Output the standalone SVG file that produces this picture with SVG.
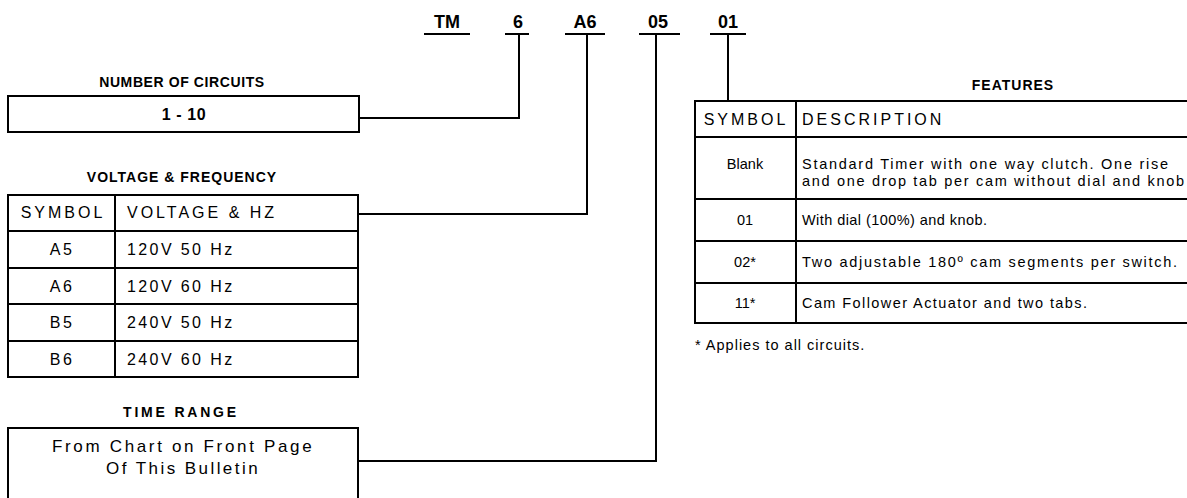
<svg xmlns="http://www.w3.org/2000/svg" width="1187" height="498" viewBox="0 0 1187 498">
<style>
.bg{fill:#fff}
.box{fill:none;stroke:#000;stroke-width:2}
.ln{fill:none;stroke:#000;stroke-width:2}
.cn{fill:none;stroke:#000;stroke-width:2}
.code{font-family:"Liberation Sans",Arial,sans-serif;font-weight:bold;font-size:18px;text-anchor:middle}
.ttl{font-family:"Liberation Sans",Arial,sans-serif;font-weight:bold;font-size:14px;text-anchor:middle;letter-spacing:0.6px}
.vt{font-family:"Liberation Sans",Arial,sans-serif;font-size:16px;letter-spacing:2.4px}
.vh{font-family:"Liberation Sans",Arial,sans-serif;font-size:16px;letter-spacing:3px}
.mid{text-anchor:middle}
.ft{font-family:"Liberation Sans",Arial,sans-serif;font-size:14.5px}
</style>
<rect class="bg" x="0" y="0" width="1187" height="498"/>

<g id="code">
<text class="code" x="447" y="28">TM</text>
<text class="code" x="518" y="28">6</text>
<text class="code" x="585" y="28">A6</text>
<text class="code" x="658" y="28">05</text>
<text class="code" x="728" y="28">01</text>
<path class="ln" d="M424,34H470M505,34H529M565,34H605M639,34H680M710,34H746"/>
</g>

<g id="connectors">
<path class="cn" d="M359,118H519V34"/>
<path class="cn" d="M358,214H587V34"/>
<path class="cn" d="M358,461H656V34"/>
<path class="cn" d="M728,34V101"/>
<path class="cn" d="M721,101H736" stroke-width="3"/>
</g>

<g id="circuits">
<text class="ttl" x="182" y="87">NUMBER OF CIRCUITS</text>
<rect class="box" x="8" y="96" width="351" height="36"/>
<text class="ttl" x="184" y="120" style="font-size:16px">1 - 10</text>
</g>

<g id="voltage">
<text class="ttl" x="182" y="182" style="letter-spacing:1px">VOLTAGE &amp; FREQUENCY</text>
<rect class="box" x="8" y="195" width="350" height="182"/>
<path class="ln" d="M8,231H358M8,268H358M8,304H358M8,341H358M115,195V377"/>
<text class="vh mid" x="63" y="218">SYMBOL</text>
<text class="vh" x="127" y="218">VOLTAGE &amp; HZ</text>
<text class="vt mid" x="62" y="255">A5</text>
<text class="vt" x="127" y="255">120V 50 Hz</text>
<text class="vt mid" x="62" y="292">A6</text>
<text class="vt" x="127" y="292">120V 60 Hz</text>
<text class="vt mid" x="62" y="328">B5</text>
<text class="vt" x="127" y="328">240V 50 Hz</text>
<text class="vt mid" x="62" y="365">B6</text>
<text class="vt" x="127" y="365">240V 60 Hz</text>
</g>

<g id="timerange">
<text class="ttl" x="181" y="417" style="letter-spacing:2.8px">TIME RANGE</text>
<path class="box" d="M8,505V428H358V505"/>
<text class="vt" x="52" y="452" textLength="262" lengthAdjust="spacing" style="font-size:17px">From Chart on Front Page</text>
<text class="vt" x="106" y="474" textLength="154" lengthAdjust="spacing" style="font-size:17px">Of This Bulletin</text>
</g>

<g id="features">
<text class="ttl" x="1013" y="90" style="letter-spacing:1px">FEATURES</text>
<path class="box" d="M1190,101H695V323H1190"/>
<path class="ln" d="M695,137H1190M695,199H1190M695,241H1190M695,283H1190M796,101V323"/>
<text class="vh mid" x="746" y="125">SYMBOL</text>
<text class="vh" x="802" y="125">DESCRIPTION</text>
<text class="ft mid" x="745" y="169">Blank</text>
<text class="ft" x="802" y="169" textLength="366" lengthAdjust="spacing">Standard Timer with one way clutch. One rise</text>
<text class="ft" x="802" y="186" textLength="382" lengthAdjust="spacing">and one drop tab per cam without dial and knob</text>
<text class="ft mid" x="745" y="225">01</text>
<text class="ft" x="802" y="225" textLength="185" lengthAdjust="spacing">With dial (100%) and knob.</text>
<text class="ft mid" x="745" y="267">02*</text>
<text class="ft" x="802" y="267" textLength="375" lengthAdjust="spacing">Two adjustable 180º cam segments per switch.</text>
<text class="ft mid" x="745" y="308">11*</text>
<text class="ft" x="802" y="308" textLength="285" lengthAdjust="spacing">Cam Follower Actuator and two tabs.</text>
<text class="ft" x="695" y="350" style="letter-spacing:1px">* Applies to all circuits.</text>
</g>
</svg>
